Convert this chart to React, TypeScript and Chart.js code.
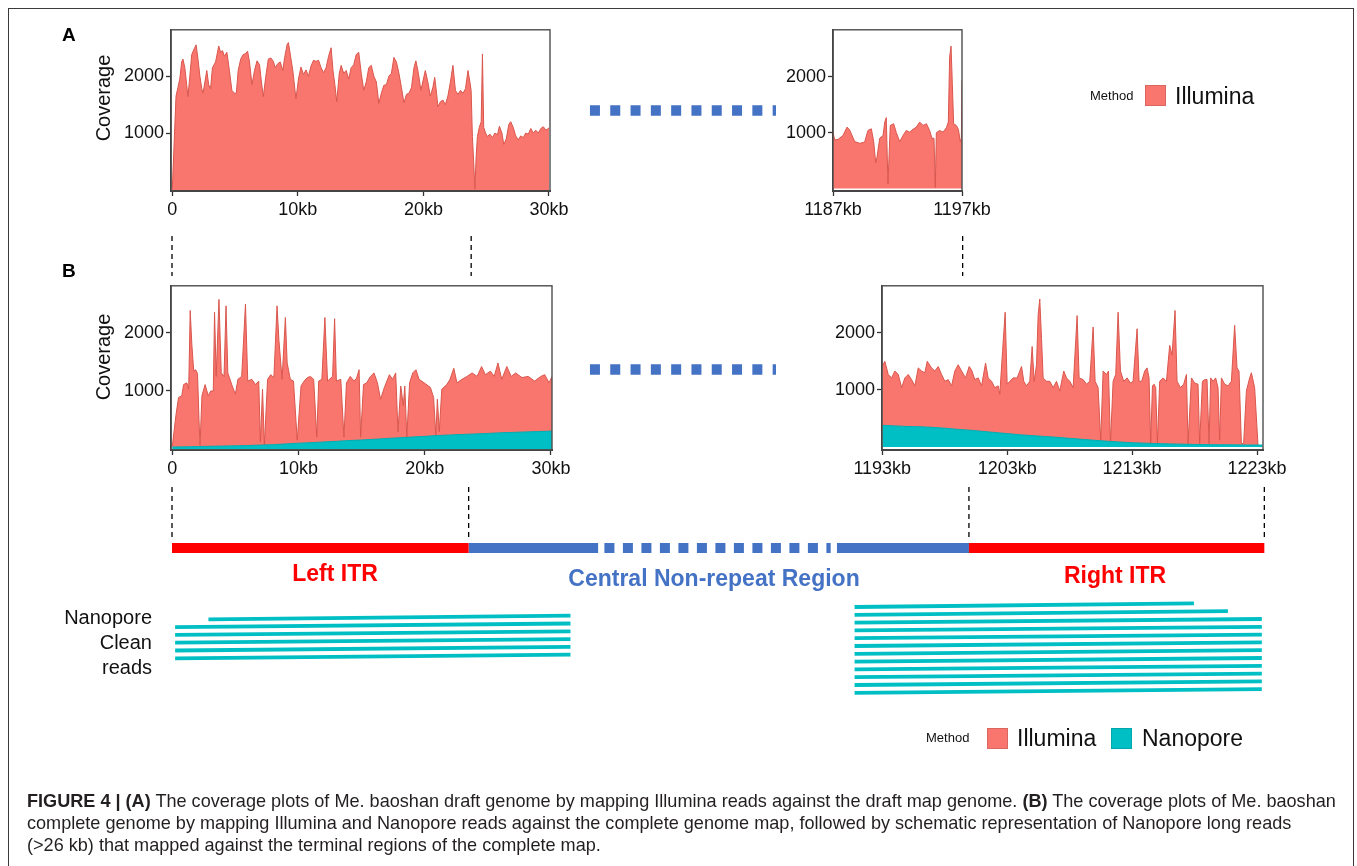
import React, { useEffect, useRef } from "react";
import { Chart, registerables } from "chart.js";

Chart.register(...registerables);

// ---------------- DATA ----------------
// Panel A, left plot (position kb, Illumina coverage)
const A_LEFT_KB = [0,0.3,0.45,0.6,0.75,0.85,1,1.15,1.25,1.4,1.55,1.75,1.9,2.05,2.2,2.35,2.45,2.6,2.75,2.9,3.05,3.2,3.45,3.7,3.85,4,4.15,4.35,4.55,4.75,4.95,5.1,5.25,5.45,5.65,5.85,6,6.15,6.35,6.55,6.75,6.95,7.1,7.25,7.45,7.65,7.85,8.05,8.2,8.4,8.6,8.8,8.95,9.15,9.25,9.4,9.6,9.85,10.05,10.25,10.45,10.65,10.85,11.05,11.25,11.45,11.65,11.85,12.05,12.25,12.45,12.65,12.8,12.95,13.1,13.3,13.45,13.65,13.85,14.05,14.25,14.45,14.65,14.85,15.05,15.25,15.45,15.65,15.85,16.05,16.25,16.45,16.65,16.85,17.05,17.25,17.45,17.65,17.85,18.05,18.25,18.45,18.65,18.85,19.05,19.25,19.4,19.6,19.8,20,20.15,20.35,20.55,20.75,20.9,21.05,21.15,21.35,21.55,21.75,21.95,22.15,22.35,22.55,22.75,22.95,23.15,23.35,23.55,23.7,23.8,23.9,24,24.1,24.2,24.3,24.45,24.6,24.7,24.8,24.95,25.1,25.3,25.5,25.7,25.9,26.05,26.25,26.4,26.6,26.8,26.95,27.15,27.35,27.55,27.75,27.95,28.15,28.35,28.55,28.75,28.95,29.15,29.35,29.55,29.75,30];
const A_LEFT_COV = [0,1650,1800,1950,2250,2300,2150,1850,1640,2000,2380,2480,2550,2300,2000,1780,1700,1900,2100,1850,1780,2150,2250,2530,2420,2450,2350,2420,2100,1750,1700,1700,2100,2300,2380,2400,2440,2250,1850,2100,2270,2200,1900,1640,2000,2300,2320,2260,2150,2220,2250,2100,2330,2560,2590,2380,2100,1600,1950,2160,2030,2110,2000,2180,2280,2260,2280,2150,2060,2150,2350,2500,2100,1850,1550,2050,2190,2050,2100,1950,2150,2200,2380,2420,2050,1750,1900,2150,2190,2000,1900,1520,1700,1840,1850,2000,2050,2330,2250,2050,1800,1530,1680,1700,1800,2150,2270,2050,1750,1950,2100,1900,1650,1800,1980,1700,1460,1550,1580,1500,1650,1900,2190,1750,1680,1750,1700,1780,2100,1900,1750,940,500,20,600,940,1100,1200,2390,1100,1000,940,980,920,1000,970,1120,1000,800,900,1150,1200,1100,950,880,950,920,1000,980,1080,1000,1050,1000,1080,1110,1050,1090];

// Panel A, right plot
const A_RIGHT_KB = [1187,1187.13,1187.39,1187.78,1188.09,1188.29,1188.68,1189.07,1189.45,1189.71,1189.97,1190.15,1190.31,1190.41,1190.62,1190.88,1191.01,1191.13,1191.26,1191.44,1191.7,1191.91,1192.17,1192.43,1192.68,1192.94,1193.2,1193.46,1193.72,1193.98,1194.24,1194.49,1194.67,1194.83,1194.93,1195.01,1195.27,1195.53,1195.79,1195.94,1196.04,1196.15,1196.25,1196.35,1196.56,1196.72,1196.87,1196.95,1197];
const A_RIGHT_COV = [1010,870,880,950,1100,1050,840,810,830,1040,1070,850,460,560,900,950,1190,1270,80,1130,1160,1000,840,950,1040,1010,1060,1100,1190,1130,1160,1040,900,900,20,1000,1040,1010,1090,1190,2350,2550,1880,1160,1130,1060,840,900,1940];

// Panel B, left plot [kb, coverage]
const B_LEFT_ILLUMINA: [number, number][] = [[0,45],[0.3,600],[0.5,890],[0.75,915],[0.9,1110],[1.15,1140],[1.3,1030],[1.42,2380],[1.55,1800],[1.7,1340],[1.85,1365],[2,1300],[2.12,500],[2.2,70],[2.35,915],[2.6,1110],[2.85,920],[3.05,1000],[3.25,1000],[3.35,2350],[3.48,1250],[3.7,2570],[3.88,1310],[4.1,1250],[4.26,2460],[4.4,1310],[4.75,1085],[5,945],[5.2,1200],[5.5,1250],[5.8,2490],[5.98,1170],[6.3,1200],[6.6,1110],[6.85,1170],[6.98,130],[7.15,1030],[7.3,70],[7.55,1200],[7.8,1280],[8.05,1230],[8.3,2460],[8.45,1870],[8.7,1200],[8.96,2260],[9.1,1480],[9.35,1200],[9.6,1170],[9.9,155],[10.2,1085],[10.45,1170],[10.7,1230],[10.95,1250],[11.2,1200],[11.45,210],[11.6,1170],[11.85,1200],[12.09,2260],[12.3,1170],[12.7,1250],[12.86,2240],[13,1170],[13.35,1200],[13.6,210],[13.8,1140],[14.1,1250],[14.4,1170],[14.6,1220],[14.8,1365],[14.92,210],[15.15,1110],[15.4,1140],[15.7,1250],[15.98,1310],[16.25,1140],[16.5,860],[16.8,1060],[17.2,1280],[17.45,1200],[17.7,1310],[17.88,300],[18.1,1085],[18.3,750],[18.42,1085],[18.58,210],[18.8,1140],[19.05,1310],[19.3,1365],[19.55,1200],[19.95,1140],[20.45,1060],[20.7,890],[20.88,240],[21,860],[21.15,300],[21.35,1030],[21.75,1110],[22,1200],[22.3,1390],[22.55,1140],[22.95,1200],[23.35,1250],[23.75,1310],[24.15,1250],[24.5,1420],[24.8,1280],[25.2,1340],[25.5,1250],[25.8,1480],[26.1,1200],[26.5,1420],[26.85,1250],[27.2,1310],[27.7,1230],[28.2,1250],[28.7,1170],[29.2,1250],[29.5,1280],[29.85,1140],[30.08,1250]];
const B_LEFT_NANOPORE: [number, number][] = [[0,40],[1,42],[2,47],[3,52],[4,56],[5,60],[6,65],[7,72],[8,80],[9,92],[10,105],[11,114],[12,126],[13,137],[14,150],[15,160],[16,172],[17,186],[18,198],[19,210],[20,222],[21,236],[22,246],[23,255],[24,263],[25,272],[26,283],[27,290],[28,298],[29,305],[30,312],[30.08,312]];

// Panel B, right plot [kb, coverage]
const B_RIGHT_ILLUMINA: [number, number][] = [[1193,1414],[1193.21,1500],[1193.48,1270],[1193.75,1210],[1194.01,1330],[1194.28,1270],[1194.55,1040],[1194.81,1210],[1195.08,1270],[1195.35,1180],[1195.61,1070],[1195.88,1385],[1196.15,1330],[1196.41,1300],[1196.6,1500],[1196.95,1385],[1197.21,1330],[1197.48,1410],[1197.75,1270],[1198.01,1150],[1198.28,1180],[1198.55,1070],[1198.81,1330],[1199.08,1440],[1199.35,1330],[1199.67,1210],[1199.96,1410],[1200.15,1350],[1200.41,1180],[1200.68,1210],[1200.95,1070],[1201.27,1470],[1201.48,1210],[1201.75,1150],[1202.01,1040],[1202.28,1070],[1202.41,925],[1202.63,1670],[1202.84,2360],[1203,1100],[1203.21,1150],[1203.48,1210],[1203.8,1210],[1204.15,1410],[1204.33,1150],[1204.55,1070],[1204.81,1150],[1205,1760],[1205.16,1150],[1205.35,1440],[1205.48,2310],[1205.61,2590],[1205.75,1900],[1205.88,1210],[1206.15,1150],[1206.41,1150],[1206.68,1040],[1206.95,1150],[1207.21,980],[1207.53,1330],[1207.75,1210],[1208.01,1150],[1208.28,1040],[1208.6,2300],[1208.76,1210],[1209.08,1180],[1209.35,1100],[1209.61,1150],[1209.88,2100],[1210.04,1150],[1210.28,1040],[1210.49,120],[1210.68,1330],[1210.95,1270],[1211.11,1330],[1211.27,60],[1211.48,1150],[1211.69,1270],[1211.88,2360],[1212.07,1330],[1212.33,1150],[1212.6,1210],[1212.87,1120],[1213.08,1150],[1213.4,2070],[1213.56,1150],[1213.77,1150],[1214.01,1330],[1214.2,1385],[1214.36,1210],[1214.49,60],[1214.63,1070],[1214.76,1100],[1214.89,1040],[1215.03,60],[1215.21,1150],[1215.48,1210],[1215.75,1150],[1216.01,1780],[1216.2,1610],[1216.44,2390],[1216.6,1150],[1216.87,1040],[1217.13,1100],[1217.35,1270],[1217.48,60],[1217.75,1210],[1218.01,1120],[1218.28,1100],[1218.41,60],[1218.63,1150],[1218.81,1180],[1219,1180],[1219.16,60],[1219.29,1210],[1219.48,1150],[1219.69,1210],[1219.88,1040],[1220.01,120],[1220.15,1210],[1220.41,1100],[1220.68,1070],[1220.95,1150],[1221.21,2130],[1221.4,1385],[1221.56,1330],[1221.75,60],[1221.93,60],[1222.15,980],[1222.41,1210],[1222.55,1300],[1222.81,1040],[1223.08,30],[1223.35,0]];
const B_RIGHT_NANOPORE: [number, number][] = [[1193,380],[1194,370],[1195,360],[1196,355],[1197,345],[1198,330],[1199,310],[1200,295],[1201,275],[1202,255],[1203,235],[1204,215],[1205,200],[1206,185],[1207,170],[1208,152],[1209,135],[1210,118],[1211,102],[1212,88],[1213,75],[1214,68],[1215,60],[1216,55],[1217,50],[1218,45],[1219,42],[1220,40],[1221,38],[1222,36],[1223,35],[1223.45,35]];

// Tick values
const Y_TICKS = [1000, 2000];
const A_LEFT_X_TICKS = [0, 10, 20, 30];
const A_RIGHT_X_TICKS = [1187, 1197];
const B_LEFT_X_TICKS = [0, 10, 20, 30];
const B_RIGHT_X_TICKS = [1193, 1203, 1213, 1223];

// Genome schematic (kb)
const LEFT_ITR_KB = [0, 23.6];
const RIGHT_ITR_KB = [1200, 1223.5];
const CENTRAL_SOLID_LEFT_KB = [23.6, 33.9];
const CENTRAL_DASHED_KB = [34.4, 1189.0];
const CENTRAL_SOLID_RIGHT_KB = [1189.5, 1200];
const GAP_DASH_KB = [33.25, 1184.65];
const A_TO_B_LINK_KB = [0, 23.8, 1199.5];
const B_TO_MAP_LINK_KB = [0, 23.6, 1200, 1223.5];
const LEFT_READ_START_KB = [2.9, 0.25, 0.25, 0.25, 0.25, 0.25];
const LEFT_READ_END_KB = [31.7, 31.7, 31.7, 31.7, 31.7, 31.7];
const RIGHT_READ_START_KB = [1190.9, 1190.9, 1190.9, 1190.9, 1190.9, 1190.9, 1190.9, 1190.9, 1190.9, 1190.9, 1190.9, 1190.9];
const RIGHT_READ_END_KB = [1217.9, 1220.6, 1223.3, 1223.3, 1223.3, 1223.3, 1223.3, 1223.3, 1223.3, 1223.3, 1223.3, 1223.3];

// ---------------- STYLE / LAYOUT ----------------
const FONT = '"Liberation Sans", Arial, Helvetica, sans-serif';
const ILLUMINA = "#F8766D";
const ILLUMINA_LINE = "#D9574E";
const NANOPORE = "#00BFC4";
const NANOPORE_LINE = "#00AEB3";
const RED = "#FF0000";
const BLUE = "#4472C4";
const PAGE_W = 1357;
const PAGE_H = 866;

const Y_AXIS_W = 72;
const PAD_TOP = 10;
const PAD_RIGHT = 40;
const X_AXIS_H = 40;

// overlay mapping (schematic shares the panel-B genome axis, with a break)
const PX_PER_KB = 12.57;
const ZERO_PX = 172;
const RIGHT_BREAK_SHIFT = 1136.6;
const toDisplay = (kb: number) => (kb > 600 ? kb - RIGHT_BREAK_SHIFT : kb);

const A_TO_B_Y = [236, 276];
const B_TO_MAP_Y = [487, 540];
const REGION_BAR_Y = 548;
const GAP_A_Y = 110.5;
const GAP_B_Y = 369.5;
const LEFT_READ_Y0 = 619.3;
const RIGHT_READ_Y0 = 607;
const READ_GAP = 7.8;
const READ_TILT = 3.6;

type Frame = { l: number; t: number; r: number; b: number };

const framePlugin = {
  id: "frameBox",
  afterDraw(chart: any) {
    const { ctx, chartArea: a } = chart;
    ctx.save();
    ctx.strokeStyle = "#4d4d4d";
    ctx.lineWidth = 1.4;
    ctx.strokeRect(a.left, a.top, a.right - a.left, a.bottom - a.top);
    ctx.restore();
  },
};

type Series = { points: [number, number][]; fill: string; line: string; order: number };

function plotConfig(xMin: number, xMax: number, yMin: number, yMax: number, xTicks: number[], series: Series[]): any {
  const tickFont = { family: FONT, size: 18 };
  return {
    type: "line",
    data: {
      datasets: series.map((s) => ({
        data: s.points.map(([x, y]) => ({ x, y })),
        fill: "origin",
        backgroundColor: s.fill,
        borderColor: s.line,
        borderWidth: 1,
        pointRadius: 0,
        tension: 0,
        order: s.order,
      })),
    },
    options: {
      responsive: false,
      animation: false,
      events: [],
      layout: { padding: { top: PAD_TOP, right: PAD_RIGHT, left: 0, bottom: 0 } },
      plugins: { legend: { display: false }, tooltip: { enabled: false } },
      scales: {
        x: {
          type: "linear",
          min: xMin,
          max: xMax,
          afterBuildTicks: (s: any) => {
            s.ticks = xTicks.map((v) => ({ value: v }));
          },
          afterFit: (s: any) => {
            s.height = X_AXIS_H;
          },
          ticks: {
            autoSkip: false,
            maxRotation: 0,
            padding: 3,
            color: "#111",
            font: tickFont,
            callback: (v: number) => (v === 0 ? "0" : `${v}kb`),
          },
          grid: { display: true, drawOnChartArea: false, drawTicks: true, tickLength: 5, tickWidth: 1.3, tickColor: "#333", color: "#333" },
          border: { display: true, color: "#333", width: 2 },
        },
        y: {
          type: "linear",
          min: yMin,
          max: yMax,
          afterBuildTicks: (s: any) => {
            s.ticks = Y_TICKS.map((v) => ({ value: v }));
          },
          afterFit: (s: any) => {
            s.width = Y_AXIS_W;
          },
          ticks: { padding: 2, color: "#111", font: tickFont, callback: (v: number) => String(v) },
          grid: { display: true, drawOnChartArea: false, drawTicks: true, tickLength: 5, tickWidth: 1.3, tickColor: "#333", color: "#333" },
          border: { display: true, color: "#333", width: 1.6 },
        },
      },
    },
    plugins: [framePlugin],
  };
}

function overlayConfig(): any {
  const ds: any[] = [];
  const seg = (x0: number, y0: number, x1: number, y1: number, color: string, width: number, dash: number[] = []) =>
    ds.push({
      data: [
        { x: toDisplay(x0), y: y0 },
        { x: toDisplay(x1), y: y1 },
      ],
      borderColor: color,
      borderWidth: width,
      borderDash: dash,
      borderCapStyle: "butt",
      pointRadius: 0,
      fill: false,
      tension: 0,
    });

  A_TO_B_LINK_KB.forEach((kb) => seg(kb, A_TO_B_Y[0], kb, A_TO_B_Y[1], "#000", 1.3, [5, 4]));
  B_TO_MAP_LINK_KB.forEach((kb) => seg(kb, B_TO_MAP_Y[0], kb, B_TO_MAP_Y[1], "#000", 1.3, [5, 4]));
  seg(GAP_DASH_KB[0], GAP_A_Y, GAP_DASH_KB[1], GAP_A_Y, BLUE, 10.5, [10, 10.3]);
  seg(GAP_DASH_KB[0], GAP_B_Y, GAP_DASH_KB[1], GAP_B_Y, BLUE, 10.5, [10, 10.3]);
  seg(LEFT_ITR_KB[0], REGION_BAR_Y, LEFT_ITR_KB[1], REGION_BAR_Y, RED, 10);
  seg(RIGHT_ITR_KB[0], REGION_BAR_Y, RIGHT_ITR_KB[1], REGION_BAR_Y, RED, 10);
  seg(CENTRAL_SOLID_LEFT_KB[0], REGION_BAR_Y, CENTRAL_SOLID_LEFT_KB[1], REGION_BAR_Y, BLUE, 10);
  seg(CENTRAL_DASHED_KB[0], REGION_BAR_Y, CENTRAL_DASHED_KB[1], REGION_BAR_Y, BLUE, 10, [10, 8.5]);
  seg(CENTRAL_SOLID_RIGHT_KB[0], REGION_BAR_Y, CENTRAL_SOLID_RIGHT_KB[1], REGION_BAR_Y, BLUE, 10);
  LEFT_READ_START_KB.forEach((s, i) => {
    const y = LEFT_READ_Y0 + i * READ_GAP;
    seg(s, y, LEFT_READ_END_KB[i], y - READ_TILT, NANOPORE, 3.8);
  });
  RIGHT_READ_START_KB.forEach((s, i) => {
    const y = RIGHT_READ_Y0 + i * READ_GAP;
    seg(s, y, RIGHT_READ_END_KB[i], y - READ_TILT, NANOPORE, 3.8);
  });

  const xMin = -ZERO_PX / PX_PER_KB;
  return {
    type: "line",
    data: { datasets: ds },
    options: {
      responsive: false,
      animation: false,
      events: [],
      layout: { padding: 0 },
      plugins: { legend: { display: false }, tooltip: { enabled: false } },
      scales: {
        x: { type: "linear", display: false, min: xMin, max: xMin + PAGE_W / PX_PER_KB },
        y: { type: "linear", display: false, min: 0, max: PAGE_H, reverse: true },
      },
    },
  };
}

function ChartCanvas({ left, top, width, height, build }: { left: number; top: number; width: number; height: number; build: () => any }) {
  const ref = useRef<HTMLCanvasElement>(null);
  useEffect(() => {
    const chart = new Chart(ref.current as HTMLCanvasElement, build());
    return () => chart.destroy();
  }, []);
  return <canvas ref={ref} width={width} height={height} style={{ position: "absolute", left, top, width, height }} />;
}

function Plot({ f, build }: { f: Frame; build: () => any }) {
  return (
    <ChartCanvas
      left={f.l - Y_AXIS_W}
      top={f.t - PAD_TOP}
      width={f.r - f.l + Y_AXIS_W + PAD_RIGHT}
      height={f.b - f.t + PAD_TOP + X_AXIS_H}
      build={build}
    />
  );
}

function Txt({ x, y, size, children, bold, color, align, style }: any) {
  const tx = align === "right" ? "-100%" : align === "center" ? "-50%" : "0";
  return (
    <div
      style={{
        position: "absolute",
        left: x,
        top: y,
        transform: `translate(${tx}, -50%)`,
        fontFamily: FONT,
        fontSize: size,
        fontWeight: bold ? 700 : 400,
        color: color || "#111",
        whiteSpace: "nowrap",
        lineHeight: 1.15,
        textAlign: align || "left",
        ...style,
      }}
    >
      {children}
    </div>
  );
}

function Swatch({ x, y, color }: { x: number; y: number; color: string }) {
  return <div style={{ position: "absolute", left: x, top: y, width: 21, height: 21, background: color, boxSizing: "border-box", border: "1px solid rgba(0,0,0,0.12)" }} />;
}

const A_L: Frame = { l: 171, t: 27, r: 550, b: 191 };
const A_R: Frame = { l: 833, t: 27, r: 962, b: 191 };
const B_L: Frame = { l: 171, t: 283, r: 552, b: 450 };
const B_R: Frame = { l: 882, t: 283, r: 1263, b: 450 };

const pairs = (xs: number[], ys: number[]): [number, number][] => xs.map((x, i) => [x, ys[i]]);

export default function App() {
  return (
    <div style={{ position: "fixed", left: 0, top: 0, width: PAGE_W, height: PAGE_H, overflow: "hidden", background: "#fff" }}>
      <div style={{ position: "absolute", left: 8, top: 8, width: 1346, height: 900, border: "1px solid #3a3a3a", boxSizing: "border-box" }} />

      <Plot f={A_L} build={() => plotConfig(-0.1, 30.08, -19, 2815, A_LEFT_X_TICKS, [{ points: pairs(A_LEFT_KB, A_LEFT_COV), fill: ILLUMINA, line: ILLUMINA_LINE, order: 1 }])} />
      <Plot f={A_R} build={() => plotConfig(1187, 1197, -44, 2842, A_RIGHT_X_TICKS, [{ points: pairs(A_RIGHT_KB, A_RIGHT_COV), fill: ILLUMINA, line: ILLUMINA_LINE, order: 1 }])} />
      <Plot
        f={B_L}
        build={() =>
          plotConfig(-0.1, 30.08, -12, 2804, B_LEFT_X_TICKS, [
            { points: B_LEFT_NANOPORE, fill: NANOPORE, line: NANOPORE_LINE, order: 0 },
            { points: B_LEFT_ILLUMINA, fill: ILLUMINA, line: ILLUMINA_LINE, order: 1 },
          ])
        }
      />
      <Plot
        f={B_R}
        build={() =>
          plotConfig(1192.98, 1223.48, -52, 2822, B_RIGHT_X_TICKS, [
            { points: B_RIGHT_NANOPORE, fill: NANOPORE, line: NANOPORE_LINE, order: 0 },
            { points: B_RIGHT_ILLUMINA, fill: ILLUMINA, line: ILLUMINA_LINE, order: 1 },
          ])
        }
      />

      <ChartCanvas left={0} top={0} width={PAGE_W} height={PAGE_H} build={overlayConfig} />

      <Txt x={62} y={35} size={19} bold color="#000">A</Txt>
      <Txt x={62} y={271} size={19} bold color="#000">B</Txt>
      <Txt x={103} y={98} size={20} align="center" style={{ transform: "translate(-50%, -50%) rotate(-90deg)" }}>Coverage</Txt>
      <Txt x={103} y={357} size={20} align="center" style={{ transform: "translate(-50%, -50%) rotate(-90deg)" }}>Coverage</Txt>

      <Txt x={1090} y={96} size={13}>Method</Txt>
      <Swatch x={1145} y={85} color={ILLUMINA} />
      <Txt x={1175} y={96} size={23}>Illumina</Txt>

      <Txt x={926} y={738} size={13}>Method</Txt>
      <Swatch x={987} y={728} color={ILLUMINA} />
      <Txt x={1017} y={738} size={23}>Illumina</Txt>
      <Swatch x={1111} y={728} color={NANOPORE} />
      <Txt x={1142} y={738} size={23}>Nanopore</Txt>

      <Txt x={335} y={573} size={23} bold color={RED} align="center">Left ITR</Txt>
      <Txt x={714} y={578} size={23} bold color={BLUE} align="center">Central Non-repeat Region</Txt>
      <Txt x={1115} y={575} size={23} bold color={RED} align="center">Right ITR</Txt>

      <Txt x={152} y={617} size={20} align="right">Nanopore</Txt>
      <Txt x={152} y={642} size={20} align="right">Clean</Txt>
      <Txt x={152} y={667} size={20} align="right">reads</Txt>

      <Txt x={27} y={801} size={18.1} color="#231f20">
        <b>FIGURE 4 | (A)</b> The coverage plots of Me. baoshan draft genome by mapping Illumina reads against the draft map genome. <b>(B)</b> The coverage plots of Me. baoshan
      </Txt>
      <Txt x={27} y={823} size={18.1} color="#231f20">
        complete genome by mapping Illumina and Nanopore reads against the complete genome map, followed by schematic representation of Nanopore long reads
      </Txt>
      <Txt x={27} y={845} size={18.1} color="#231f20">
        (&gt;26 kb) that mapped against the terminal regions of the complete map.
      </Txt>
    </div>
  );
}
